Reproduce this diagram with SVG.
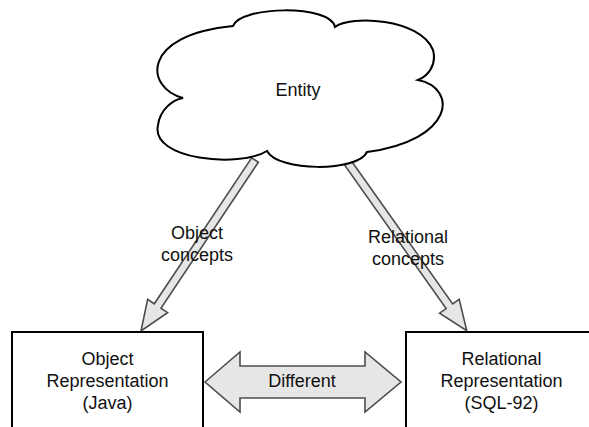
<svg xmlns="http://www.w3.org/2000/svg" width="589" height="427" viewBox="0 0 589 427">
<style>
.lbl{font-family:"Liberation Sans",Arial,Helvetica,sans-serif;font-size:18px;fill:#111;text-anchor:middle}
.box{fill:#fff;stroke:#000;stroke-width:2}
.blk{fill:#e6e6e6;stroke:#4d4d4d;stroke-width:1.6;stroke-linejoin:miter}
</style>
<defs>
<polygon id="thinArrow" points="0,-4 175.5,-4 175.5,-12 205.5,0 175.5,12 175.5,4 0,4"/>
</defs>
<rect width="589" height="427" fill="#fff"/>
<g id="connectors">
<g id="edge-object">
<use href="#thinArrow" class="blk" transform="translate(255,160) rotate(123.7)"/>
</g>
<g id="edge-relational">
<use href="#thinArrow" class="blk" transform="translate(348,163) rotate(54.7)"/>
</g>
<g id="edge-different">
<polygon class="blk" points="205,382 240,352 240,366 365,366 365,352 401,382 365,412 365,398 240,398 240,412"/>
</g>
</g>
<g id="entity">
<path class="box" d="M233,26 C240,6 330,4 335,27 C350,15 420,18 433,50 C437,65 428,76 418,80 C458,88 455,140 367,152 C358,172 278,172 267,151 C240,168 150,160 158,125 C160,110 172,100 183,98 C145,88 140,35 233,26 Z"/>
<text class="lbl" x="298" y="96">Entity</text>
</g>
<g id="object-rep">
<rect class="box" x="12" y="332" width="191" height="120"/>
<text class="lbl" x="107.5" y="365">Object</text>
<text class="lbl" x="107.5" y="387">Representation</text>
<text class="lbl" x="107.5" y="409">(Java)</text>
</g>
<g id="relational-rep">
<rect class="box" x="406" y="332" width="191" height="120"/>
<text class="lbl" x="501.5" y="365">Relational</text>
<text class="lbl" x="501.5" y="387">Representation</text>
<text class="lbl" x="501.5" y="409">(SQL-92)</text>
</g>
<g id="labels">
<text class="lbl" x="197" y="239">Object</text>
<text class="lbl" x="197" y="261">concepts</text>
<text class="lbl" x="408" y="243">Relational</text>
<text class="lbl" x="408" y="265">concepts</text>
<text class="lbl" x="302" y="387">Different</text>
</g>
</svg>
